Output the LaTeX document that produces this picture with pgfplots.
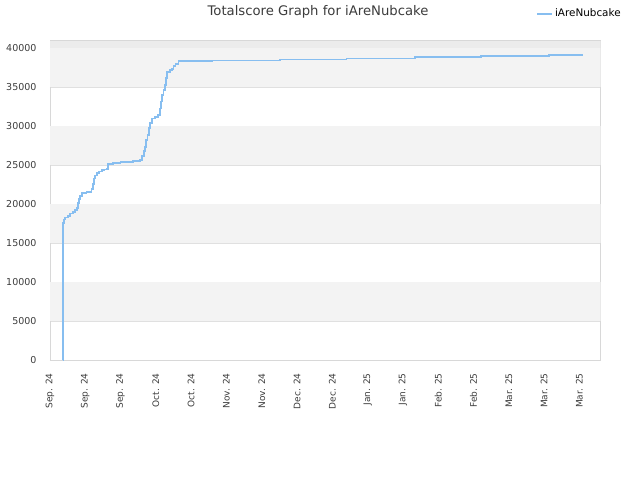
\documentclass[border=0pt]{standalone}
\usepackage{fontspec}
\setmainfont{DejaVu Sans}
\usepackage{pgfplots}
\pgfplotsset{compat=1.18}
\definecolor{lineblue}{RGB}{135,190,240}
\definecolor{bandgray}{RGB}{243,243,243}
\definecolor{topgray}{RGB}{236,236,236}
\definecolor{gridgray}{RGB}{224,224,224}
\definecolor{axgray}{RGB}{216,216,216}
\definecolor{txt}{RGB}{60,60,60}
\begin{document}
\begin{tikzpicture}[x=1pt,y=1pt]
\fill[white] (0,0) rectangle (640,480);
\node[text=txt, font=\fontsize{13.2}{15}\selectfont] at (318,468) {Totalscore Graph for iAreNubcake};
\begin{axis}[
  at={(50pt,120pt)}, anchor=south west,
  scale only axis, width=550.5pt, height=319.3pt,
  xmin=0, xmax=218.4, ymin=0, ymax=41000,
  scaled y ticks=false,
  xtick={0,14,28,42,56,70,84,98,112,126,140,154,168,182,196,210},
  xticklabels={Sep. 24,Sep. 24,Sep. 24,Oct. 24,Oct. 24,Nov. 24,Nov. 24,Dec. 24,Dec. 24,Jan. 25,Jan. 25,Feb. 25,Feb. 25,Mar. 25,Mar. 25,Mar. 25},
  ytick={0,5000,10000,15000,20000,25000,30000,35000,40000},
  yticklabels={0,5000,10000,15000,20000,25000,30000,35000,40000},
  x tick label style={rotate=90, anchor=east, font=\fontsize{9}{10}\selectfont, text=txt},
  y tick label style={font=\fontsize{9.5}{10}\selectfont, text=txt},
  xtick pos=bottom, ytick pos=left,
  major tick length=0pt,
  xticklabel shift=10pt, yticklabel shift=10pt,
  ymajorgrids, grid style={gridgray, line width=0.8pt},
  axis line style={axgray, line width=0.8pt},
  clip=true,
  legend style={draw=none, fill=none, at={(0.883,1)}, anchor=west, yshift=27pt,
     font=\fontsize{10.4}{11}\selectfont, inner sep=0pt, row sep=0pt,
     /tikz/every even column/.append style={column sep=0pt}},
  legend cell align=left,
  legend image code/.code={\draw[#1] (0pt,0pt) -- (11pt,0pt); \path (0pt,0pt) -- (15pt,0pt);},
]
\addlegendimage{lineblue, line width=1.8pt}
\addlegendentry{iAreNubcake}
\fill[bandgray] (axis cs:0,5000) rectangle (axis cs:218.4,10000);
\fill[bandgray] (axis cs:0,15000) rectangle (axis cs:218.4,20000);
\fill[bandgray] (axis cs:0,25000) rectangle (axis cs:218.4,30000);
\fill[bandgray] (axis cs:0,35000) rectangle (axis cs:218.4,40000);
\fill[topgray] (axis cs:0,40000) rectangle (axis cs:218.4,41000);
\addplot[const plot, lineblue, line width=1.8pt, forget plot] coordinates {
(5.2,0) (5.25,17600) (5.4,18050) (6.0,18300) (7.0,18500) (8.0,18800) (9.0,19000)
(10.0,19300) (10.8,19500) (11.2,20200) (11.6,20700) (12.0,21100) (12.7,21450)
(14.5,21550) (16.0,21600) (16.5,22000) (17.0,22600) (17.6,23300) (18.0,23700)
(18.7,24000) (19.5,24200) (20.5,24350) (21.5,24450) (22.6,24500) (23.0,25200)
(25.0,25300) (28.0,25400) (31.0,25450) (33.0,25550) (35.8,25650) (36.5,26200)
(37.2,26800) (37.8,27300) (38.2,28200) (38.7,28900) (39.2,29800) (39.8,30400)
(40.4,31000) (41.5,31200) (43.0,31450) (43.5,32300) (44.0,33200) (44.5,34000)
(45.0,34700) (45.5,35300) (46.0,36200) (46.4,37000) (47.5,37200) (48.5,37400)
(49.0,37700) (49.8,38000) (51.0,38370) (64.2,38460) (91.2,38590) (117.6,38720)
(144.7,38880) (171.1,39010) (198.1,39140) (211.3,39140)
};
\end{axis}
\end{tikzpicture}
\end{document}
